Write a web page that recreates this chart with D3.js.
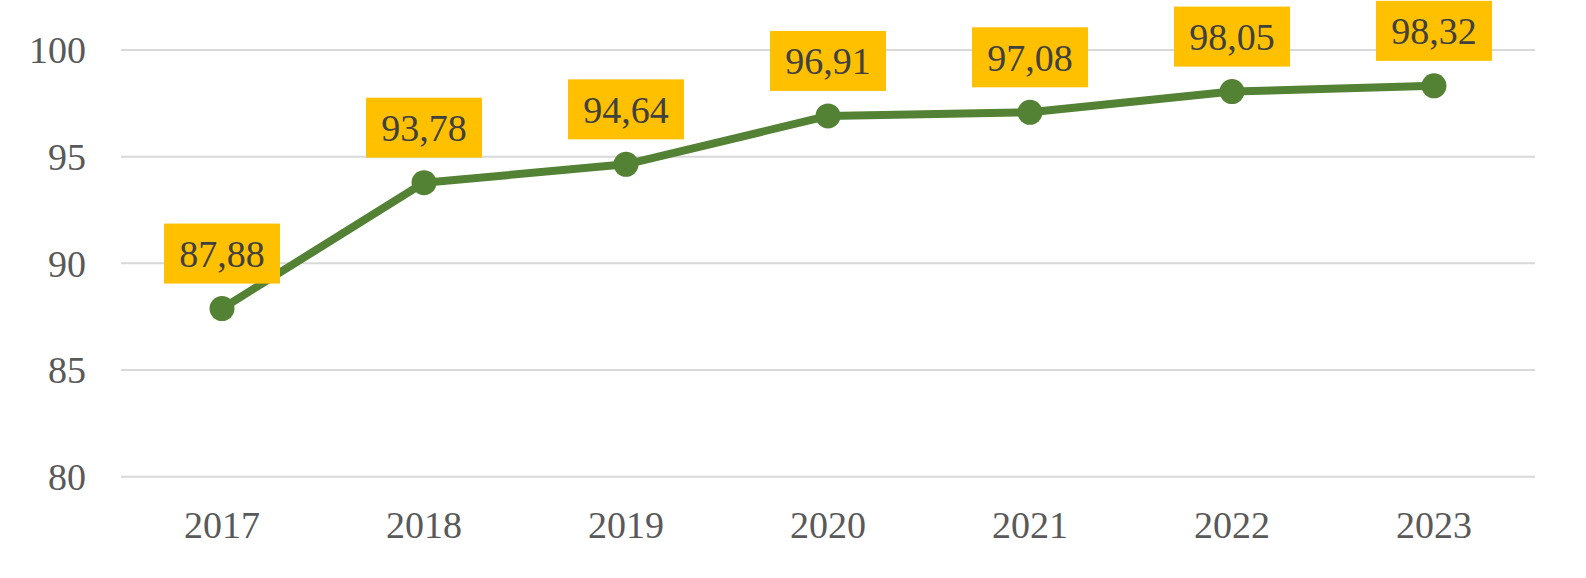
<!DOCTYPE html>
<html>
<head>
<meta charset="utf-8">
<script src="https://cdn.jsdelivr.net/npm/d3@7"></script>
<style>
  body { margin: 0; background: #fff; }
  text { font-family: "Liberation Serif", "DejaVu Serif", serif; }
</style>
</head>
<body>
<div id="viz"></div>
<script>
const years = ['2017', '2018', '2019', '2020', '2021', '2022', '2023'];
const values = [87.88, 93.78, 94.64, 96.91, 97.08, 98.05, 98.32];
const yTicks = [80, 85, 90, 95, 100];

const width = 1586, height = 578;
const plotLeft = 121, plotRight = 1535, plotTop = 50, plotBottom = 476.7;

let svg = d3.select('#viz')
    .append('svg')
    .attr('width', width)
    .attr('height', height);

let xScale = d3.scaleBand()
    .domain(years)
    .range([plotLeft, plotRight]);

let yScale = d3.scaleLinear()
    .domain([80, 100])
    .range([plotBottom, plotTop]);

const cx = d => xScale(d) + xScale.bandwidth() / 2;

// gridlines
svg.append('g')
    .selectAll('line')
    .data(yTicks)
    .enter()
    .append('line')
    .attr('x1', plotLeft)
    .attr('x2', plotRight)
    .attr('y1', d => yScale(d))
    .attr('y2', d => yScale(d))
    .attr('stroke', '#d9d9d9')
    .attr('stroke-width', 2);

// y labels
svg.append('g')
    .selectAll('text')
    .data(yTicks)
    .enter()
    .append('text')
    .attr('x', 86)
    .attr('y', d => yScale(d))
    .attr('dy', '0.35em')
    .attr('text-anchor', 'end')
    .attr('font-size', 38)
    .attr('fill', '#595959')
    .text(d => d);

// x labels
svg.append('g')
    .selectAll('text')
    .data(years)
    .enter()
    .append('text')
    .attr('x', d => cx(d))
    .attr('y', 538)
    .attr('text-anchor', 'middle')
    .attr('font-size', 38)
    .attr('fill', '#595959')
    .text(d => d);

const pts = years.map((y, i) => ({ year: y, value: values[i] }));

svg.append('path')
    .datum(pts)
    .attr('fill', 'none')
    .attr('stroke', '#548235')
    .attr('stroke-width', 8)
    .attr('stroke-linejoin', 'round')
    .attr('d', d3.line().x(d => cx(d.year)).y(d => yScale(d.value)));

svg.append('g')
    .selectAll('circle')
    .data(pts)
    .enter()
    .append('circle')
    .attr('cx', d => cx(d.year))
    .attr('cy', d => yScale(d.value))
    .attr('r', 12.5)
    .attr('fill', '#548235');

// data labels
let labels = svg.append('g')
    .selectAll('g')
    .data(pts)
    .enter()
    .append('g')
    .attr('transform', d => `translate(${cx(d.year)},${yScale(d.value) - 55})`);

labels.append('rect')
    .attr('x', -58)
    .attr('y', -30)
    .attr('width', 116)
    .attr('height', 60)
    .attr('fill', '#ffc000');

labels.append('text')
    .attr('text-anchor', 'middle')
    .attr('dy', '0.35em')
    .attr('font-size', 38)
    .attr('fill', '#404040')
    .text(d => d3.format('.2f')(d.value).replace('.', ','));
</script>
</body>
</html>
